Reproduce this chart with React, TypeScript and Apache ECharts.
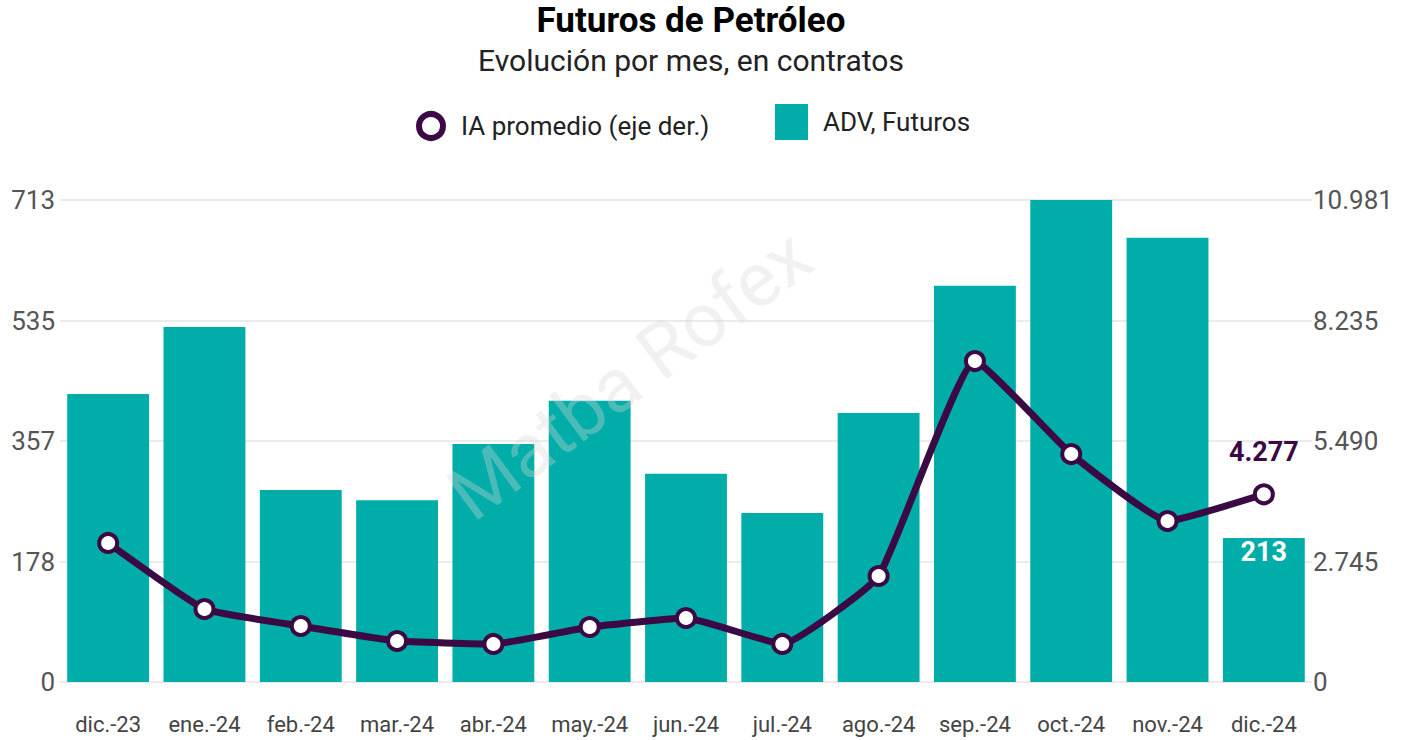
import React, { useEffect, useRef } from "react";
import * as echarts from "echarts";

const categories = ["dic.-23", "ene.-24", "feb.-24", "mar.-24", "abr.-24", "may.-24", "jun.-24", "jul.-24", "ago.-24", "sep.-24", "oct.-24", "nov.-24", "dic.-24"];
const advFuturos = [426, 525, 284, 269, 352, 416, 308, 250, 398, 586, 713, 657, 213];
const iaPromedio = [3167, 1663, 1276, 934, 866, 1253, 1458, 866, 2415, 7312, 5194, 3668, 4277];
const leftTickLabels = ["0", "178", "357", "535", "713"];
const rightTickLabels = ["0", "2.745", "5.490", "8.235", "10.981"];
const leftMax = 713;
const rightMax = 10981;

const TEAL = "#00ADA8";
const PURPLE = "#3B0A45";
const FONT = "Roboto";

const fmt = (n: number) => String(n).replace(/\B(?=(\d{3})+(?!\d))/g, ".");

export default function App() {
  const ref = useRef<HTMLDivElement>(null);
  useEffect(() => {
    if (!ref.current) return;
    const chart = echarts.init(ref.current, undefined, { renderer: "svg" });
    const last = categories.length - 1;
    chart.setOption({
      animation: false,
      backgroundColor: "#fff",
      textStyle: { fontFamily: FONT },
      title: {
        text: "Futuros de Petróleo",
        subtext: "Evolución por mes, en contratos",
        left: 686,
        textAlign: "center",
        top: -2,
        itemGap: 7,
        textStyle: { fontFamily: FONT, fontSize: 35, fontWeight: "bold", color: "#000" },
        subtextStyle: { fontFamily: FONT, fontSize: 30, color: "#222" },
      },
      legend: [
        {
          left: 416,
          top: 111,
          padding: 0,
          itemWidth: 26,
          itemHeight: 24,
          data: [{ name: "IA promedio (eje der.)", icon: "circle", itemStyle: { color: "#fff", borderColor: PURPLE, borderWidth: 6 } }],
          textStyle: { fontFamily: FONT, fontSize: 26, color: "#222", padding: [0, 0, 0, 12] },
        },
        {
          left: 775,
          top: 104,
          padding: 0,
          itemWidth: 33,
          itemHeight: 36,
          data: [{ name: "ADV, Futuros", icon: "rect" }],
          textStyle: { fontFamily: FONT, fontSize: 26, color: "#222", padding: [0, 0, 0, 10] },
        },
      ],
      grid: { left: 60, right: 89, top: 200, bottom: 58, containLabel: false },
      xAxis: {
        type: "category",
        data: categories,
        axisLine: { show: false },
        axisTick: { show: false },
        axisLabel: { fontFamily: FONT, fontSize: 22, color: "#444", margin: 31, interval: 0, hideOverlap: false },
      },
      yAxis: [
        {
          type: "value",
          min: 0,
          max: leftMax,
          interval: leftMax / 4,
          axisLine: { show: false },
          axisTick: { show: false },
          splitLine: { lineStyle: { color: "#E5E5E5", width: 1.5 } },
          axisLabel: {
            fontFamily: FONT,
            fontSize: 26,
            color: "#555",
            margin: 5,
            formatter: (v: number) => leftTickLabels[Math.round(v / (leftMax / 4))] ?? "",
          },
        },
        {
          type: "value",
          min: 0,
          max: rightMax,
          interval: rightMax / 4,
          axisLine: { show: false },
          axisTick: { show: false },
          splitLine: { show: false },
          axisLabel: {
            fontFamily: FONT,
            fontSize: 26,
            color: "#555",
            margin: 1,
            formatter: (v: number) => rightTickLabels[Math.round(v / (rightMax / 4))] ?? "",
          },
        },
      ],
      series: [
        {
          name: "ADV, Futuros",
          type: "bar",
          yAxisIndex: 0,
          barCategoryGap: "15%",
          itemStyle: { color: TEAL },
          data: advFuturos.map((v, i) =>
            i === last
              ? {
                  value: v,
                  label: {
                    show: true,
                    position: "insideTop",
                    distance: 0,
                    fontFamily: FONT,
                    fontSize: 27,
                    fontWeight: "bold",
                    color: "#fff",
                    formatter: (p: any) => fmt(p.value),
                  },
                }
              : v
          ),
          z: 1,
        },
        {
          name: "IA promedio (eje der.)",
          type: "line",
          yAxisIndex: 1,
          smooth: 0.12,
          symbol: "circle",
          symbolSize: 18,
          lineStyle: { color: PURPLE, width: 7 },
          itemStyle: { color: "#fff", borderColor: PURPLE, borderWidth: 4 },
          data: iaPromedio.map((v, i) =>
            i === last
              ? {
                  value: v,
                  label: {
                    show: true,
                    position: "top",
                    distance: 18,
                    fontFamily: FONT,
                    fontSize: 27,
                    fontWeight: "bold",
                    color: PURPLE,
                    formatter: (p: any) => fmt(p.value),
                  },
                }
              : v
          ),
          z: 3,
        },
      ],
      graphic: [
        {
          type: "text",
          x: 630,
          y: 375,
          rotation: 0.64,
          z: 100,
          silent: true,
          style: {
            text: "Matba Rofex",
            fontFamily: FONT,
            fontSize: 76,
            fill: "rgba(215,215,215,0.35)",
            align: "center",
            verticalAlign: "middle",
          },
        },
      ],
    });
    return () => chart.dispose();
  }, []);
  return <div ref={ref} style={{ position: "absolute", left: 0, top: 0, width: 1401, height: 740 }} />;
}
